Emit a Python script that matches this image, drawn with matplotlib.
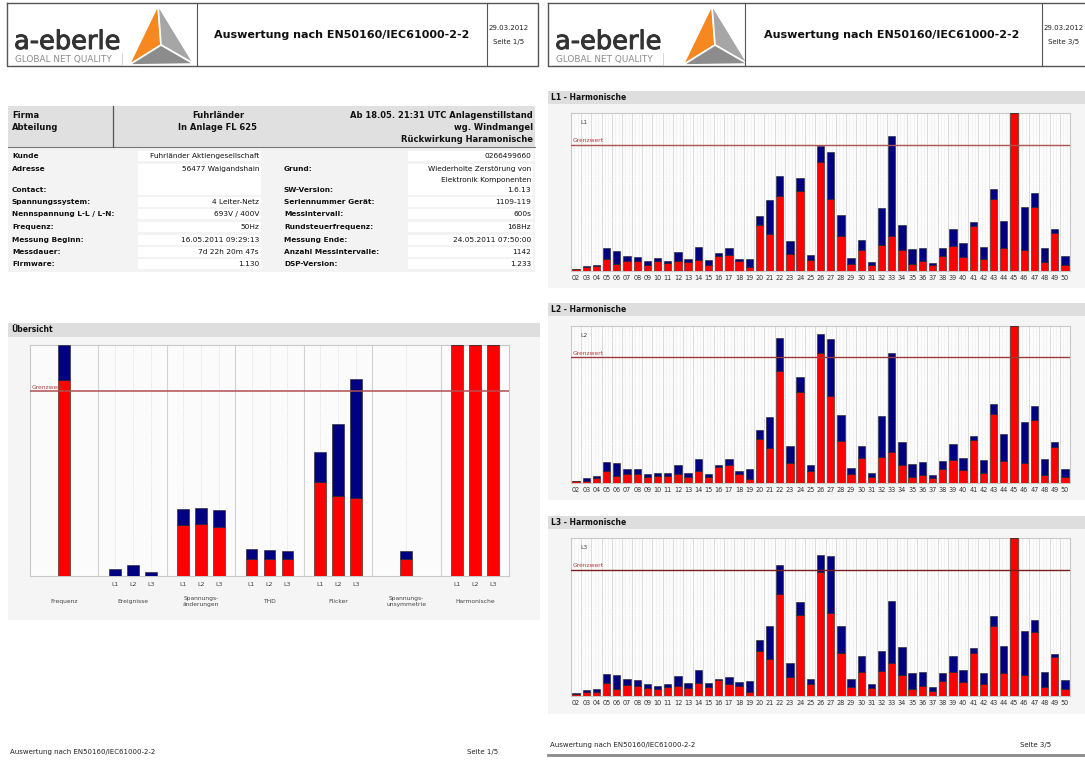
import numpy as np
import matplotlib
matplotlib.use('Agg')
import matplotlib.pyplot as plt
import matplotlib.patheffects as pe
from matplotlib.patches import Rectangle, Polygon

plt.rcParams['font.family'] = ['DejaVu Sans']

W, H = 1085, 760
RED = '#ff0000'
BLUE = '#000080'

# --- data -------------------------------------------------------------
header_title = 'Auswertung nach EN50160/IEC61000-2-2'
report_date = '29.03.2012'

info_left_labels = ['Kunde', 'Adresse', '', 'Contact:', 'Spannungssystem:',
                    'Nennspannung L-L / L-N:', 'Frequenz:', 'Messung Beginn:',
                    'Messdauer:', 'Firmware:']
info_left_values = ['Fuhrländer Aktiengesellschaft', '56477 Waigandshain', '', '',
                    '4 Leiter-Netz', '693V / 400V', '50Hz', '16.05.2011 09:29:13',
                    '7d 22h 20m 47s', '1.130']
info_right_labels = ['', 'Grund:', '', 'SW-Version:', 'Seriennummer Gerät:',
                     'Messintervall:', 'Rundsteuerfrequenz:', 'Messung Ende:',
                     'Anzahl Messintervalle:', 'DSP-Version:']
info_right_values = ['0266499660', 'Wiederholte Zerstörung von', 'Elektronik Komponenten',
                     '1.6.13', '1109-119', '600s', '168Hz', '24.05.2011 07:50:00',
                     '1142', '1.233']

overview_groups = ['Frequenz', 'Ereignisse', 'Spannungs-\nänderungen', 'THD',
                   'Flicker', 'Spannungs-\nunsymmetrie', 'Harmonische']
overview_phases = [[''], ['L1', 'L2', 'L3'], ['L1', 'L2', 'L3'], ['L1', 'L2', 'L3'],
                   ['L1', 'L2', 'L3'], [''], ['L1', 'L2', 'L3']]
overview_red = [[85.0], [0, 0, 0], [21.9, 22.6, 21.1], [7.5, 7.5, 7.5],
                [40.5, 34.7, 33.9], [7.2], [100, 100, 100]]
overview_total = [[100.0], [3.0, 4.7, 1.6], [29.1, 29.4, 28.7], [11.9, 11.1, 10.9],
                  [53.7, 65.6, 85.4], [10.7], [100, 100, 100]]
limit_value = 80

harm_orders = list(range(2, 51))
l1_red = [1.0, 2.3, 3.0, 7.8, 4.2, 6.6, 6.1, 3.6, 6.6, 5.1, 6.1, 5.5, 7.2, 3.6, 9.3,
          10.1, 6.1, 2.7, 28.8, 23.3, 47.4, 10.8, 50.5, 6.8, 68.9, 45.5, 22.4, 4.4,
          13.3, 3.8, 16.7, 22.0, 13.1, 4.2, 6.3, 3.8, 9.5, 15.6, 8.7, 28.3, 7.4, 45.5,
          14.8, 100, 13.1, 40.8, 5.5, 24.1, 3.6]
l1_total = [1.5, 3.4, 4.0, 14.4, 12.9, 9.7, 9.1, 6.6, 8.5, 6.6, 12.3, 7.8, 15.0, 7.0,
            11.2, 14.8, 7.6, 7.6, 34.9, 45.0, 60.0, 19.2, 58.8, 10.1, 78.9, 75.5, 35.7,
            8.5, 19.7, 5.9, 40.0, 85.2, 29.4, 14.2, 14.8, 5.3, 14.8, 26.8, 17.5, 31.3,
            15.4, 51.8, 31.9, 100, 40.6, 49.3, 14.8, 26.4, 9.5]
l2_red = [1.1, 1.1, 3.4, 7.5, 4.3, 5.8, 5.8, 4.1, 4.7, 4.7, 6.0, 4.1, 7.5, 3.6, 10.2,
          11.3, 5.5, 2.6, 27.9, 22.0, 71.6, 12.8, 57.8, 7.5, 82.9, 55.4, 26.7, 5.8,
          15.8, 4.1, 16.6, 19.6, 11.3, 3.6, 5.3, 3.4, 8.7, 14.9, 8.1, 27.3, 6.6, 43.7,
          14.3, 100, 12.8, 40.1, 4.9, 23.2, 3.8]
l2_total = [1.5, 3.0, 4.5, 13.2, 13.0, 8.7, 9.2, 5.8, 6.6, 6.4, 11.7, 6.6, 15.6, 5.8,
            11.5, 15.6, 7.5, 9.0, 33.7, 42.0, 92.1, 23.5, 67.8, 11.5, 95.1, 91.7, 43.1,
            9.8, 23.5, 6.6, 42.9, 82.5, 26.2, 11.9, 13.2, 4.9, 13.9, 24.9, 16.0, 30.1,
            14.7, 50.1, 31.3, 100, 38.6, 48.8, 15.4, 25.8, 9.0]
l3_red = [1.5, 2.3, 2.8, 8.3, 4.7, 7.0, 6.6, 5.3, 4.2, 5.5, 6.6, 5.3, 8.3, 5.7, 10.0,
          7.6, 6.4, 2.5, 28.4, 23.5, 64.4, 11.9, 51.1, 7.6, 78.6, 52.8, 27.1, 5.9,
          15.3, 4.9, 15.7, 21.0, 13.6, 4.4, 6.4, 3.4, 9.3, 15.3, 8.7, 27.5, 7.4, 44.1,
          14.8, 100, 13.6, 40.3, 5.7, 24.4, 4.4]
l3_total = [1.9, 4.0, 4.7, 13.8, 13.3, 10.6, 10.0, 7.4, 6.4, 7.4, 12.9, 8.5, 16.3, 8.5,
            11.0, 12.1, 9.1, 9.3, 35.2, 44.5, 82.6, 20.6, 59.7, 10.8, 89.2, 88.3, 44.1,
            10.8, 25.6, 7.8, 28.4, 60.2, 30.9, 14.4, 15.3, 5.7, 14.4, 25.6, 16.5, 30.1,
            14.4, 50.4, 31.6, 100, 40.9, 48.3, 15.5, 26.3, 10.2]

# --- figure / page canvas --------------------------------------------
fig = plt.figure(figsize=(W / 100, H / 100), dpi=100)
fig.patch.set_facecolor('white')
bg = fig.add_axes([0, 0, 1, 1])
bg.set_xlim(0, W)
bg.set_ylim(H, 0)
bg.axis('off')


def px_axes(x0, y0, x1, y1):
    return fig.add_axes([x0 / W, 1 - y1 / H, (x1 - x0) / W, (y1 - y0) / H])


def rect(x, y, w, h, fc, ec='none', lw=0, z=0):
    bg.add_patch(Rectangle((x, y), w, h, facecolor=fc, edgecolor=ec, lw=lw, zorder=z))


def header(x0, x1, div1, div2, tri_x, title_x, page):
    bg.plot([x0, x1, x1, x0, x0], [3, 3, 66, 66, 3], color='#555555', lw=1.0)
    bg.plot([div1, div1], [3, 66], color='#555555', lw=0.8)
    bg.plot([div2, div2], [3, 66], color='#555555', lw=0.8)
    # logo
    bg.text(x0 + 7, 49, 'a-eberle', fontsize=18.5, color='#333333', va='baseline',
            path_effects=[pe.withStroke(linewidth=0.7, foreground='#333333')])
    bg.plot([x0 + 5, x0 + 115, x0 + 115], [65, 65, 53], color='#d0d0d0', lw=0.6)
    bg.text(x0 + 8, 59.5, 'GLOBAL NET QUALITY', fontsize=6.4, color='#8a8a8a', va='center')
    apex, lb, rb, inner = (tri_x, 5), (tri_x - 29, 65), (tri_x + 36, 64), (tri_x + 3, 45)
    bg.add_patch(Polygon([apex, lb, inner], facecolor='#f7871f', edgecolor='white', lw=1.2))
    bg.add_patch(Polygon([apex, inner, rb], facecolor='#a6a6a6', edgecolor='white', lw=1.2))
    bg.add_patch(Polygon([lb, inner, rb], facecolor='#8c8c8c', edgecolor='white', lw=1.2))
    bg.text(title_x, 35, header_title, fontsize=8, fontweight='bold',
            ha='center', va='center', color='#111111')
    dx = div2 + 22
    bg.text(dx, 28, report_date, fontsize=5, ha='center', va='center', color='#222222')
    bg.text(dx, 42, page, fontsize=5, ha='center', va='center', color='#222222')


header(7, 538, 197, 487, 158, 342, 'Seite 1/5')
header(548, 1100, 745, 1042, 712, 892, 'Seite 3/5')

# --- info table -------------------------------------------------------
rect(8, 106, 527, 41, '#e0e0e0')
bg.plot([8, 535], [147, 147], color='#777777', lw=0.8)
bg.plot([113, 113], [106, 147], color='#555555', lw=0.9)
hk = dict(fontsize=6, fontweight='bold', color='#111111', va='center')
bg.text(12, 115, 'Firma', **hk)
bg.text(12, 127, 'Abteilung', **hk)
bg.text(218, 115, 'Fuhrländer', ha='center', **hk)
bg.text(218, 127, 'In Anlage FL 625', ha='center', **hk)
for yy, s in zip([115, 127, 139], ['Ab 18.05. 21:31 UTC Anlagenstillstand',
                                   'wg. Windmangel', 'Rückwirkung Haramonische']):
    bg.text(533, yy, s, ha='right', **hk)

rect(8, 148, 527, 124, '#f3f3f3')
row_y = [156, 169, 180, 190, 202, 214, 227, 240, 252, 264]
for i, yy in enumerate(row_y):
    if i == 2:
        continue
    hgt = 21 if i == 1 else 10
    top = yy - 5
    rect(138, top, 123, hgt, 'white')
    rect(408, top, 125, hgt, 'white')
for i, yy in enumerate(row_y):
    lk = dict(fontsize=5.3, va='center', color='#111111')
    if info_left_labels[i]:
        bg.text(12, yy, info_left_labels[i], fontweight='bold', **lk)
    if info_left_values[i]:
        bg.text(259, yy, info_left_values[i], ha='right', **lk)
    if info_right_labels[i]:
        bg.text(284, yy, info_right_labels[i], fontweight='bold', **lk)
    if info_right_values[i]:
        bg.text(531, yy, info_right_values[i], ha='right', **lk)


# --- section headers --------------------------------------------------
def section(x0, x1, y0, y1, label, panel_bottom):
    rect(x0, y1, x1 - x0, panel_bottom - y1, '#f5f5f5')
    rect(x0, y0, x1 - x0, y1 - y0, '#dedede')
    bg.text(x0 + 3, (y0 + y1) / 2, label, fontsize=5.5, fontweight='bold',
            va='center', color='#111111')


section(8, 540, 323, 337, 'Übersicht', 620)
section(548, 1085, 91, 104, 'L1 - Harmonische', 288)
section(548, 1085, 303, 316, 'L2 - Harmonische', 500)
section(548, 1085, 516, 529, 'L3 - Harmonische', 714)

# --- overview chart ---------------------------------------------------
ax = px_axes(30, 345, 509, 576)
ax.set_facecolor('#fbfbfb')
ax.set_xlim(-0.5, len(overview_groups) - 0.5)
ax.set_ylim(0, 100)
ax.set_xticks([])
ax.set_yticks([])
for s in ax.spines.values():
    s.set_color('#c8c8c8')
    s.set_linewidth(0.8)
for g in range(len(overview_groups) - 1):
    ax.axvline(g + 0.5, color='#d2d2d2', lw=0.8, zorder=0)
step = 0.263
for g, name in enumerate(overview_groups):
    n = len(overview_red[g])
    xs = g + (np.arange(n) - (n - 1) / 2) * step
    for x in xs:
        ax.axvline(x, color='#d6d6d6', lw=0.6, ls=(0, (1, 1.5)), zorder=0)
    red = np.array(overview_red[g])
    tot = np.array(overview_total[g])
    ax.bar(xs, red, width=0.175, color=RED, edgecolor='#222222', lw=0.4, zorder=3)
    ax.bar(xs, tot - red, bottom=red, width=0.175, color=BLUE,
           edgecolor='#222222', lw=0.4, zorder=3)
    tr = ax.get_xaxis_transform()
    for x, ph in zip(xs, overview_phases[g]):
        if ph:
            ax.text(x, -0.035, ph, transform=tr, fontsize=4.5, ha='center',
                    va='center', color='#444444')
    ax.text(g, -0.112, name, transform=tr, fontsize=4.3, ha='center',
            va='center', color='#444444', linespacing=1.3)
ax.axhline(limit_value, color='#b05050', lw=1.1, zorder=4)
ax.text(-0.47, limit_value + 0.5, 'Grenzwert', fontsize=4.3, color='#b04040',
        va='bottom', zorder=5)


# --- harmonics charts -------------------------------------------------
def harm_chart(y0, y1, phase, red, total, lcolor):
    a = px_axes(571, y0, 1070, y1)
    a.set_facecolor('#fbfbfb')
    a.set_xlim(1.5, 50.5)
    a.set_ylim(0, 100)
    a.set_yticks([])
    for s in a.spines.values():
        s.set_color('#c8c8c8')
        s.set_linewidth(0.8)
    for b in np.arange(1.5, 51, 1):
        a.axvline(b, color='#dcdcdc', lw=0.7, zorder=0)
    for h in harm_orders:
        a.axvline(h - 0.17, color='#e2e2e2', lw=0.5, ls=(0, (1, 1.5)), zorder=0)
        a.axvline(h + 0.17, color='#e2e2e2', lw=0.5, ls=(0, (1, 1.5)), zorder=0)
    red = np.array(red)
    total = np.array(total)
    a.bar(harm_orders, red, width=0.72, color=RED, edgecolor='#222222', lw=0.4, zorder=3)
    a.bar(harm_orders, total - red, bottom=red, width=0.72, color=BLUE,
          edgecolor='#222222', lw=0.4, zorder=3)
    a.axhline(limit_value, color=lcolor, lw=1.0, zorder=4)
    a.text(1.7, limit_value + 0.8, 'Grenzwert', fontsize=4.3, color='#b04040',
           va='bottom', zorder=5)
    a.text(2.4, 94, phase, fontsize=4.3, color='#444444', va='center', zorder=5)
    a.set_xticks(harm_orders)
    a.set_xticklabels([f'{h:02d}' for h in harm_orders], fontsize=4.7, color='#333333')
    a.tick_params(axis='x', length=0, pad=3)


harm_chart(113, 271, 'L1', l1_red, l1_total, '#b05050')
harm_chart(326, 483, 'L2', l2_red, l2_total, '#a03a3a')
harm_chart(538, 696, 'L3', l3_red, l3_total, '#7a1f1f')

# --- footers ----------------------------------------------------------
bg.text(10, 752, header_title, fontsize=5, va='center', color='#222222')
bg.text(467, 752, 'Seite 1/5', fontsize=5, va='center', color='#222222')
bg.text(550, 745, header_title, fontsize=5, va='center', color='#222222')
bg.text(1020, 745, 'Seite 3/5', fontsize=5, va='center', color='#222222')
bg.plot([548, 1085], [755, 755], color='#8a8a8a', lw=2)

fig.savefig('out.png', dpi=100, facecolor='white')
